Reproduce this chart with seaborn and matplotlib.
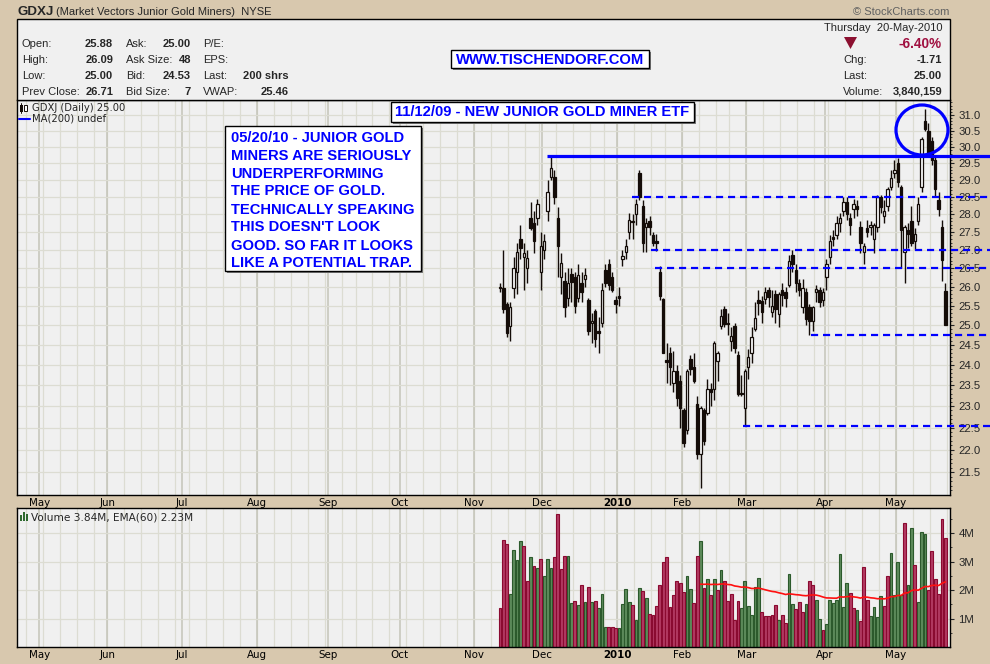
import numpy as np
import pandas as pd
import matplotlib
matplotlib.use("Agg")
import matplotlib.pyplot as plt
import seaborn as sns
from matplotlib.patches import Rectangle, Ellipse, Polygon
from matplotlib.lines import Line2D
from matplotlib.ticker import FixedLocator, FixedFormatter, NullFormatter

# ---------------- data ----------------
nyse_holidays = ['2009-05-25', '2009-07-03', '2009-09-07', '2009-11-26', '2009-12-25',
                 '2010-01-01', '2010-01-18', '2010-02-15', '2010-04-02']
first_day = '2009-11-11'
calendar_start = '2009-04-01'
calendar_end = '2010-05-28'

opens = [26.00, 25.97, 25.55, 24.97, 25.97, 26.40, 27.30, 26.80, 26.50, 27.90, 27.75, 27.90, 26.40, 27.00,
         28.10, 29.10, 29.10, 27.90, 26.25, 26.15, 25.70, 26.35, 26.25, 25.70, 26.10, 26.20, 25.65, 25.05, 25.35, 24.85, 25.05, 26.45, 26.60, 26.25, 25.65, 25.75,
         26.75, 26.95, 27.50, 27.82, 28.00, 29.20, 28.25, 27.65, 27.80, 27.40, 27.25, 26.40, 25.66, 24.12, 24.30, 23.55, 23.85, 23.60, 22.90,
         22.45, 24.15, 23.95, 23.05, 21.90, 22.90, 22.85, 23.40, 23.40, 24.10, 24.97, 25.40, 25.05, 24.60, 24.97, 24.25, 23.32, 22.95, 23.95,
         24.30, 24.90, 25.65, 25.62, 25.67, 25.90, 25.33, 25.80, 25.28, 25.90, 25.85, 26.05, 26.85, 26.45, 26.10, 25.45, 25.85, 25.45, 25.10, 25.85, 25.90, 25.65, 26.25,
         26.80, 27.35, 27.40, 27.75, 28.10, 28.35, 27.90, 28.15, 28.25, 27.65, 26.95, 27.60, 27.65, 27.30, 27.65, 28.50, 27.95, 28.25, 28.80, 29.20, 29.50,
         28.80, 26.95, 27.55, 27.80, 27.25, 27.80, 28.80, 30.80, 30.50, 30.20, 29.60, 28.40, 27.65, 25.88]
highs = [26.10, 27.00, 25.60, 25.60, 26.80, 27.20, 27.70, 27.20, 27.00, 28.35, 28.10, 28.45, 27.50, 27.45,
         29.00, 29.70, 29.30, 28.20, 26.90, 26.40, 26.50, 26.50, 26.40, 26.60, 26.40, 26.50, 25.70, 25.30, 25.40, 25.20, 26.10, 26.60, 26.75, 26.40, 25.75, 26.00,
         27.00, 27.30, 28.05, 28.00, 28.45, 29.30, 28.40, 27.90, 27.95, 27.50, 27.45, 26.55, 25.70, 24.55, 24.45, 24.35, 24.00, 23.75, 22.95,
         23.90, 24.25, 24.30, 23.25, 23.00, 22.95, 23.65, 23.55, 24.60, 24.35, 25.40, 25.50, 25.30, 24.95, 25.05, 24.35, 23.75, 23.90, 24.40,
         24.95, 25.60, 25.90, 25.75, 26.00, 26.00, 25.90, 25.90, 25.85, 26.10, 26.00, 26.85, 27.00, 26.60, 26.20, 26.20, 25.95, 25.55, 25.50, 26.05, 26.00, 25.95, 26.75,
         27.40, 27.55, 27.95, 28.05, 28.50, 28.50, 28.05, 28.45, 28.40, 27.80, 27.20, 27.85, 27.80, 27.75, 28.55, 28.55, 28.40, 28.80, 29.30, 29.60, 29.65,
         28.85, 27.70, 27.75, 28.25, 27.60, 28.50, 30.30, 31.20, 30.75, 30.30, 29.70, 28.65, 27.85, 26.09]
lows = [25.85, 25.30, 24.70, 24.60, 25.70, 25.80, 26.75, 25.90, 26.10, 27.55, 26.90, 27.70, 25.90, 26.75,
        27.80, 29.00, 28.30, 26.25, 25.80, 25.20, 25.50, 25.60, 25.30, 25.60, 25.60, 26.00, 24.75, 24.55, 24.45, 24.30, 24.95, 26.00, 25.90, 25.85, 25.30, 25.50,
        26.55, 26.75, 27.30, 27.30, 27.70, 28.40, 26.95, 26.95, 27.40, 27.10, 26.97, 25.65, 24.30, 23.55, 23.50, 23.35, 23.00, 22.50, 22.05,
        22.35, 23.75, 23.55, 21.80, 21.15, 22.10, 22.80, 23.00, 23.15, 23.60, 24.90, 24.95, 24.75, 24.35, 24.30, 23.25, 23.25, 22.55, 23.65,
        24.05, 24.85, 25.25, 25.05, 25.55, 25.45, 25.20, 25.05, 24.95, 25.50, 25.45, 26.00, 26.40, 25.85, 25.75, 25.30, 25.00, 24.75, 24.85, 25.60, 25.45, 25.50, 25.90,
        26.60, 27.10, 27.30, 27.50, 27.95, 27.85, 27.40, 27.90, 27.95, 26.90, 26.60, 27.35, 27.40, 26.90, 27.50, 28.05, 27.75, 28.10, 28.70, 29.05, 28.80,
        26.50, 26.10, 27.05, 27.10, 27.00, 27.70, 28.65, 30.50, 29.70, 29.45, 28.50, 27.95, 26.15, 25.00]
closes = [25.95, 25.40, 24.80, 25.45, 26.50, 26.95, 27.05, 26.90, 26.78, 27.60, 27.25, 28.30, 27.10, 27.25,
          28.65, 29.35, 28.50, 27.10, 26.65, 25.45, 26.10, 26.12, 25.50, 26.30, 25.85, 26.30, 24.85, 25.10, 24.65, 24.80, 25.90, 26.10, 26.05, 25.90, 25.55, 25.70,
          26.82, 27.10, 27.85, 27.78, 28.30, 28.50, 27.20, 27.75, 27.65, 27.20, 27.18, 25.75, 24.30, 24.07, 23.95, 23.85, 23.20, 22.95, 22.15,
          23.85, 23.90, 23.60, 21.90, 22.95, 22.20, 23.40, 23.35, 24.55, 24.30, 25.23, 25.03, 25.02, 24.72, 24.42, 23.30, 23.28, 23.85, 24.20,
          24.70, 25.18, 25.58, 25.33, 25.85, 25.72, 25.48, 25.40, 25.80, 25.77, 25.70, 26.70, 26.60, 26.10, 25.90, 25.95, 25.15, 25.10, 25.45, 25.93, 25.60, 25.85, 26.60,
          27.25, 27.30, 27.75, 27.90, 28.35, 28.00, 27.70, 28.30, 28.15, 27.20, 27.10, 27.50, 27.70, 27.70, 28.50, 28.20, 28.10, 28.75, 29.05, 29.30, 28.95,
          27.55, 27.65, 27.45, 27.20, 27.45, 28.30, 30.25, 30.55, 29.80, 29.60, 28.75, 28.15, 26.71, 25.00]
volume_m = [1.37, 3.77, 3.60, 1.87, 3.42, 3.06, 3.73, 3.55, 2.31, 3.15, 2.83, 2.76, 3.08, 2.51,
            3.08, 2.76, 3.15, 4.67, 2.73, 3.19, 3.19, 1.55, 1.62, 1.48, 2.19, 1.58, 2.12, 1.58, 1.62, 1.37, 1.87, 0.69, 0.69, 0.69, 0.65, 0.65,
            1.51, 2.05, 1.58, 1.48, 0.94, 2.08, 1.98, 1.73, 1.15, 1.12, 1.44, 2.19, 2.98, 3.15, 1.40, 1.83, 2.33, 2.26, 1.94,
            2.51, 2.05, 1.55, 3.19, 3.73, 2.08, 2.37, 1.83, 2.40, 2.01, 2.69, 2.30, 1.62, 1.87, 0.94, 1.62, 1.37, 2.30, 1.44,
            1.12, 2.12, 2.44, 1.23, 1.08, 1.08, 1.12, 1.48, 0.94, 1.12, 0.83, 2.55, 1.51, 1.33, 1.58, 1.23, 1.51, 2.30, 2.19, 1.65, 0.98, 0.58, 0.80,
            1.65, 1.55, 1.65, 3.26, 1.40, 2.26, 1.90, 1.37, 1.30, 0.90, 2.80, 1.65, 1.08, 1.40, 1.05, 1.80, 1.44, 2.48, 3.30, 1.83, 2.98,
            1.83, 4.37, 2.19, 4.19, 2.87, 1.58, 4.05, 3.98, 2.01, 3.37, 2.37, 1.87, 4.48, 3.84]
volume_up = [0, 0, 0, 1, 1, 1, 1, 0, 0, 1, 0, 1, 0, 1,
             1, 1, 0, 0, 0, 0, 1, 1, 0, 1, 0, 1, 0, 1, 0, 1, 1, 1, 0, 0, 0, 1,
             1, 1, 1, 0, 1, 1, 0, 1, 0, 0, 0, 0, 0, 0, 0, 0, 0, 0, 0,
             1, 1, 0, 0, 1, 0, 1, 0, 1, 0, 1, 0, 0, 0, 0, 0, 1, 1, 1,
             1, 1, 1, 0, 0, 0, 0, 0, 1, 0, 0, 1, 1, 0, 0, 0, 1, 0, 0, 1, 1, 0, 1,
             1, 1, 1, 1, 1, 1, 0, 0, 1, 0, 0, 0, 1, 1, 1, 1, 0, 0, 1, 1, 1,
             1, 0, 1, 1, 0, 1, 1, 1, 0, 0, 0, 0, 0, 0]
support_solid = 29.72
support_dashed = [28.5, 27.0, 26.5, 24.75, 22.55]
dashed_start = [38.8, 44.4, 45.6, 91.5, 71.5]
solid_start = 13.8
price_ticks = [21.5, 22.0, 22.5, 23.0, 23.5, 24.0, 24.5, 25.0, 25.5, 26.0, 26.5, 27.0, 27.5, 28.0, 28.5, 29.0, 29.5, 30.0, 30.5, 31.0]
vol_ticks = [1, 2, 3, 4]
note_lines = ["05/20/10 - JUNIOR GOLD", "MINERS ARE SERIOUSLY", "UNDERPERFORMING",
              "THE PRICE OF GOLD.", "TECHNICALLY SPEAKING", "THIS DOESN'T LOOK",
              "GOOD. SO FAR IT LOOKS", "LIKE A POTENTIAL TRAP."]

# ---------------- style ----------------
sns.set_theme(style="white")
plt.rcParams['font.family'] = ['DejaVu Sans']
TAN = '#d8c8ae'
PANEL = '#f0f0f0'
GRID_W = '#dcdcd2'
GRID_M = '#c4c4b8'
BLUE = '#0000ff'
INK = '#140c08'
ARIAL = 'Liberation Sans'

W, H = 990, 664
fig = plt.figure(figsize=(W / 100, H / 100), dpi=100)
fig.patch.set_facecolor(TAN)

def fx(px):
    return px / W

def fy(py):
    return 1 - py / H

def T(px, py, s, **kw):
    kw.setdefault('va', 'center')
    kw.setdefault('family', ARIAL)
    return fig.text(fx(px), fy(py), s, **kw)

# ---------------- calendar ----------------
hol = pd.to_datetime(nyse_holidays)
days = pd.bdate_range(calendar_start, calendar_end)
days = days[~days.isin(hol)]
i0 = days.get_loc(pd.Timestamp(first_day))
pos_all = np.arange(len(days)) - i0
PXD = 3.4
XMIN = -(500 - 17) / PXD
XMAX = XMIN + 933 / PXD

per_m = days.to_period('M')
month_idx = [i for i in range(len(days)) if i == 0 or per_m[i] != per_m[i - 1]]
per_w = days.to_period('W')
week_idx = [i for i in range(len(days)) if i == 0 or per_w[i] != per_w[i - 1]]
month_pos = [pos_all[i] for i in month_idx if XMIN < pos_all[i] < XMAX]
month_lab = [('2010' if days[i].month == 1 else days[i].strftime('%b'))
             for i in month_idx if XMIN < pos_all[i] < XMAX]
week_pos = [pos_all[i] for i in week_idx if XMIN < pos_all[i] < XMAX]
day_pos = [p for p in pos_all if XMIN < p < XMAX]

o = np.array(opens); h = np.array(highs); l = np.array(lows); c = np.array(closes)
n = len(c)
x = np.arange(n)

# ---------------- axes ----------------
ax = fig.add_axes([fx(17), fy(495), 933 / W, 395 / H])
axv = fig.add_axes([fx(17), fy(647), 933 / W, 139 / H])

for a in (ax, axv):
    a.set_facecolor(PANEL)
    a.set_xlim(XMIN, XMAX)
    for p in week_pos:
        a.axvline(p - 0.5, color=GRID_W, lw=0.9, zorder=0)
    for p in month_pos:
        a.axvline(p - 0.5, color=GRID_M, lw=1.1, zorder=0)
    for s in a.spines.values():
        s.set_color('black'); s.set_linewidth(1.0)
    a.xaxis.set_major_locator(FixedLocator([p - 0.5 for p in month_pos]))
    a.xaxis.set_major_formatter(FixedFormatter(month_lab))
    a.xaxis.set_minor_locator(FixedLocator(day_pos))
    a.tick_params(axis='x', which='major', length=2, width=0.8, pad=0.2, labelsize=7.4, colors='black')
    a.tick_params(axis='x', which='minor', length=1.5, width=0.6, colors='black')
    a.yaxis.tick_right()
    for lab in a.get_xticklabels():
        if lab.get_text() == '2010':
            lab.set_fontweight('bold')

# price panel
ax.set_yscale('log')
ax.set_ylim(21.0, 31.48)
for t in price_ticks:
    ax.axhline(t, color=GRID_W, lw=0.9, zorder=0)
ax.yaxis.set_major_locator(FixedLocator(price_ticks))
ax.yaxis.set_major_formatter(FixedFormatter([f"{t:.1f}" for t in price_ticks]))
ax.yaxis.set_minor_locator(FixedLocator(np.arange(21.1, 31.45, 0.1)))
ax.yaxis.set_minor_formatter(NullFormatter())
ax.tick_params(axis='y', which='major', length=3, width=0.8, pad=3, labelsize=8.2)
ax.tick_params(axis='y', which='minor', length=1.5, width=0.6)
for lab in ax.get_yticklabels():
    lab.set_family(ARIAL)

# candles
ax.vlines(x, l, h, color=INK, lw=1.0, zorder=2)
body = np.maximum(np.abs(c - o), 0.035)
ax.bar(x, body, bottom=np.minimum(o, c), width=0.74,
       color=[INK if cc < oo else 'white' for oo, cc in zip(o, c)],
       edgecolor=INK, linewidth=0.9, zorder=3)

# support / resistance lines
ax.hlines(support_solid, solid_start, XMAX + 13, color=BLUE, lw=2.3, zorder=4, clip_on=False)
for lvl, st in zip(support_dashed, dashed_start):
    ax.hlines(lvl, st, XMAX + 13, color=BLUE, lw=1.6, linestyles=(0, (3.2, 2.2)), zorder=4, clip_on=False)

# volume panel
vol = np.array(volume_m)
up = np.array(volume_up).astype(bool)
axv.set_ylim(0, 4.88)
for t in vol_ticks:
    axv.axhline(t, color=GRID_W, lw=0.9, zorder=0)
axv.bar(x[up], vol[up], width=0.88, color='#5e8c5c', edgecolor='#2c5a2c', linewidth=0.8, zorder=2)
axv.bar(x[~up], vol[~up], width=0.88, color='#b33a62', edgecolor='#8a0a30', linewidth=0.8, zorder=2)
ema = np.full(n, np.nan)
span = 60
k = 2 / (span + 1)
ema[span - 1] = vol[:span].mean()
for i in range(span, n):
    ema[i] = ema[i - 1] + k * (vol[i] - ema[i - 1])
ema_df = pd.DataFrame({'x': x[span - 1:], 'ema': ema[span - 1:]})
sns.lineplot(data=ema_df, x='x', y='ema', ax=axv, color='#ff1010', lw=1.2, zorder=3)
axv.set_xlabel(''); axv.set_ylabel('')
axv.yaxis.set_major_locator(FixedLocator(vol_ticks))
axv.yaxis.set_major_formatter(FixedFormatter([f"{t}M" for t in vol_ticks]))
axv.yaxis.set_minor_locator(FixedLocator(np.arange(0.5, 4.8, 0.5)))
axv.tick_params(axis='y', which='major', length=3, width=0.8, pad=3, labelsize=8.2)
axv.tick_params(axis='y', which='minor', length=1.5, width=0.6)
for lab in axv.get_yticklabels():
    lab.set_family(ARIAL)
ax.set_xlabel(''); ax.set_ylabel('')

# ---------------- header ----------------
fig.add_artist(Rectangle((fx(17), fy(100)), 933 / W, 81 / H, transform=fig.transFigure,
                         fc=PANEL, ec='black', lw=1.0, zorder=1))
T(17, 12, "GDXJ", fontsize=9.6, fontweight='bold')
T(56, 12, "(Market Vectors Junior Gold Miners)  NYSE", fontsize=8)
T(949, 12, "\u00a9 StockCharts.com", fontsize=8, color='#606060', ha='right')

rows_y = [44, 60, 76, 92]
col1 = [("Open:", "25.88"), ("High:", "26.09"), ("Low:", "25.00"), ("Prev Close:", "26.71")]
col2 = [("Ask:", "25.00"), ("Ask Size:", "48"), ("Bid:", "24.53"), ("Bid Size:", "7")]
col3 = [("P/E:", ""), ("EPS:", ""), ("Last:", "200 shrs"), ("VWAP:", "25.46")]
for yy, (a1, b1), (a2, b2), (a3, b3) in zip(rows_y, col1, col2, col3):
    T(22, yy, a1, fontsize=8, zorder=3)
    T(113, yy, b1, fontsize=8, fontweight='bold', ha='right', zorder=3)
    T(126, yy, a2, fontsize=8, zorder=3)
    T(191, yy, b2, fontsize=8, fontweight='bold', ha='right', zorder=3)
    T(203, yy, a3, fontsize=8, zorder=3)
    if b3:
        T(289, yy, b3, fontsize=8, fontweight='bold', ha='right', zorder=3)

T(942, 28, "Thursday  20-May-2010", fontsize=8, ha='right', zorder=3)
fig.add_artist(Polygon([[fx(844), fy(37)], [fx(857), fy(37)], [fx(850.5), fy(49)]], closed=True,
                       transform=fig.transFigure, fc='#8c1030', ec='none', zorder=3))
T(942, 44, "-6.40%", fontsize=9.8, fontweight='bold', color='#a01040', ha='right', zorder=3)
for yy, a1, b1 in zip([60, 76, 92], ["Chg:", "Last:", "Volume:"], ["-1.71", "25.00", "3,840,159"]):
    T(843, yy, a1, fontsize=8, zorder=3)
    T(942, yy, b1, fontsize=8, fontweight='bold', ha='right', zorder=3)

# ---------------- annotation boxes ----------------
def box(x0, y0, x1, y1):
    fig.add_artist(Rectangle((fx(x0 + 2), fy(y1 + 2)), (x1 - x0) / W, (y1 - y0) / H,
                             transform=fig.transFigure, fc='#7a7a7a', ec='none', zorder=5))
    fig.add_artist(Rectangle((fx(x0), fy(y1)), (x1 - x0) / W, (y1 - y0) / H,
                             transform=fig.transFigure, fc='white', ec='black', lw=1.0, zorder=6))

box(451, 50, 649, 68)
T(550, 59.5, "WWW.TISCHENDORF.COM", fontsize=10.6, fontweight='bold', color=BLUE, ha='center', zorder=7)
box(391, 102, 694, 122)
T(542.5, 112.5, "11/12/09 - NEW JUNIOR GOLD MINER ETF", fontsize=10.6, fontweight='bold', color=BLUE, ha='center', zorder=7)
box(225, 126, 421, 271)
for i, s in enumerate(note_lines):
    T(231, 137.5 + 18 * i, s, fontsize=10.6, fontweight='bold', color=BLUE, zorder=7)

# circle around the top
fig.add_artist(Ellipse((fx(922), fy(130)), 52 / W, 50 / H, transform=fig.transFigure,
                       fill=False, ec=BLUE, lw=2.3, zorder=5))

# ---------------- legends ----------------
fig.add_artist(Rectangle((fx(20), fy(112)), 2.5 / W, 7 / H, transform=fig.transFigure, fc=INK, ec='none', zorder=3))
fig.add_artist(Rectangle((fx(24), fy(111)), 2.5 / W, 6 / H, transform=fig.transFigure, fc='white', ec=INK, lw=0.7, zorder=3))
fig.add_artist(Line2D([fx(21.2), fx(21.2)], [fy(103), fy(113)], transform=fig.transFigure, color=INK, lw=0.7, zorder=3))
T(32, 108, "GDXJ (Daily) 25.00", fontsize=7.2, family='DejaVu Sans', zorder=3)
fig.add_artist(Line2D([fx(19), fx(30)], [fy(118.5), fy(118.5)], transform=fig.transFigure, color=BLUE, lw=1.5, zorder=3))
T(32, 118.5, "MA(200) undef", fontsize=7.2, family='DejaVu Sans', zorder=3)
for bx, bh in zip([20, 23, 26], [6, 9, 7]):
    fig.add_artist(Rectangle((fx(bx), fy(521)), 2.2 / W, bh / H, transform=fig.transFigure,
                             fc='#2f6a2f', ec='none', zorder=3))
T(31, 517, "Volume 3.84M, EMA(60) 2.23M", fontsize=7.6, family='DejaVu Sans', zorder=3)

fig.savefig("out.png", dpi=100, facecolor=fig.get_facecolor())
